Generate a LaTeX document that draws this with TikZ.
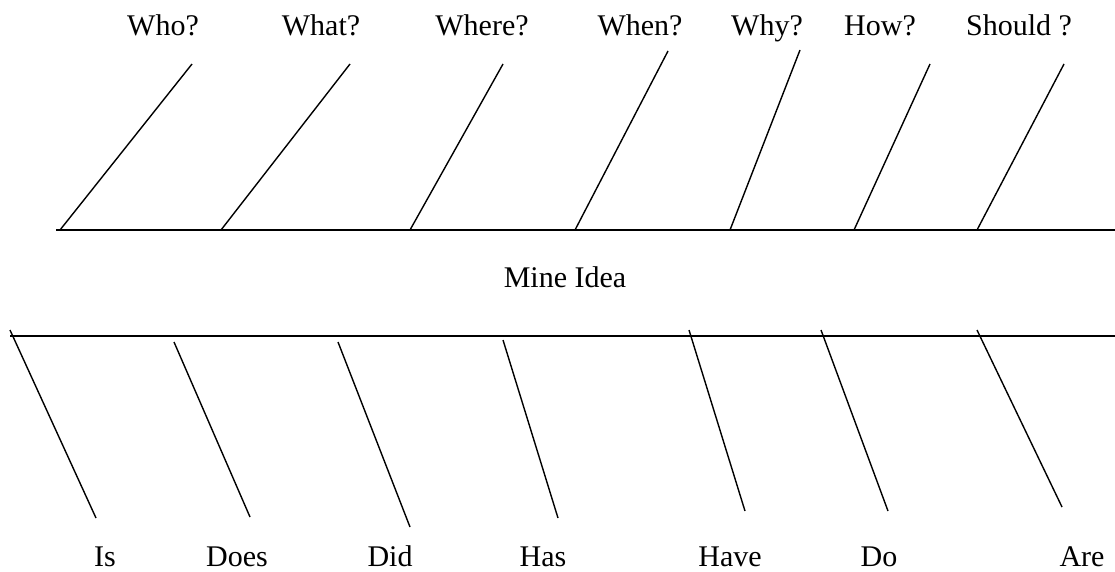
\documentclass[tikz,border=0pt]{standalone}
\usepackage{fontspec}
\setmainfont{Liberation Serif}
\usetikzlibrary{positioning}

\begin{document}
\begin{tikzpicture}[x=1pt,y=-1pt,
    every node/.style={anchor=base,inner sep=0pt,font=\fontsize{30}{36}\selectfont},
    spine/.style={line width=2pt},
    bone/.style={line width=1.4pt}]
    \useasboundingbox (0,0) rectangle (1115,571);
    % Upper spine with question bones
    \coordinate (up-l) at (56,230);
    \coordinate (up-r) at (1115,230);
    \draw[spine] (up-l) -- (up-r);
    \foreach \name/\txt/\xl/\xb/\xt/\yt in {who/Who?/163/60/192/64,what/What?/321/221/350/64,where/Where?/482/410/503/64,when/When?/640/575/668/51,why/Why?/767/730/800/50,how/How?/880/854/930/64,should/Should ?/1019/977/1064/64} {
        \node (q-\name) at (\xl,35) {\txt};
        \coordinate (qb-\name) at (\xb,230);
        \coordinate (qt-\name) at (\xt,\yt);
        \draw[bone] (qb-\name) -- (qt-\name);
    }
    % Centre label
    \node (idea) at (565,287) {Mine Idea};
    % Lower spine with verb bones
    \coordinate (lo-l) at (10,336);
    \coordinate (lo-r) at (1115,336);
    \draw[spine] (lo-l) -- (lo-r);
    \foreach \name/\txt/\xl/\xa/\ya/\xe/\ye in {is/Is/105/10/330/96/518,does/Does/237/174/342/250/517,did/Did/390/338/342/410/527,has/Has/543/503/340/558/518,have/Have/730/689/330/745/511,do/Do/879/821/330/888/511,are/Are/1082/977/330/1062/507} {
        \node (v-\name) at (\xl,566) {\txt};
        \coordinate (va-\name) at (\xa,\ya);
        \coordinate (ve-\name) at (\xe,\ye);
        \draw[bone] (va-\name) -- (ve-\name);
    }
\end{tikzpicture}
\end{document}
